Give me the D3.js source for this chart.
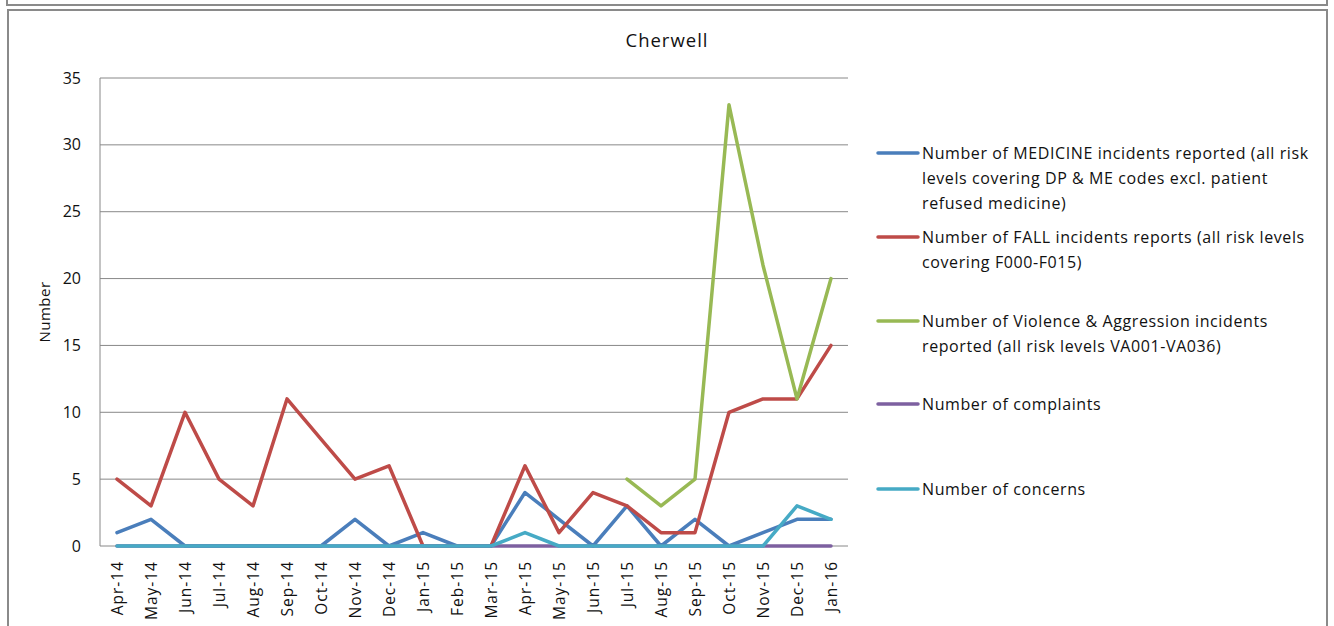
<!DOCTYPE html>
<html><head><meta charset="utf-8">
<script src="https://cdn.jsdelivr.net/npm/d3@7"></script>
<style>body{margin:0;background:#fff}svg{display:block}text{font-family:"Open Sans","Noto Sans",sans-serif;fill:#111}</style>
</head><body>
<svg id="c" width="1334" height="626"></svg>
<script>
const months = ["Apr-14","May-14","Jun-14","Jul-14","Aug-14","Sep-14","Oct-14","Nov-14","Dec-14","Jan-15","Feb-15","Mar-15","Apr-15","May-15","Jun-15","Jul-15","Aug-15","Sep-15","Oct-15","Nov-15","Dec-15","Jan-16"];
const medicine = [1,2,0,0,0,0,0,2,0,1,0,0,4,2,0,3,0,2,0,1,2,2];
const falls = [5,3,10,5,3,11,8,5,6,0,0,0,6,1,4,3,1,1,10,11,11,15];
const violence = [null,null,null,null,null,null,null,null,null,null,null,null,null,null,null,5,3,5,33,21,11,20];
const complaints = [0,0,0,0,0,0,0,0,0,0,0,0,0,0,0,0,0,0,0,0,0,0];
const concerns = [0,0,0,0,0,0,0,0,0,0,0,0,1,0,0,0,0,0,0,0,3,2];
const yTicks = [0,5,10,15,20,25,30,35];
const seriesNames = [
  ["Number of MEDICINE incidents reported (all risk","levels covering DP & ME codes excl. patient","refused medicine)"],
  ["Number of FALL incidents reports (all risk levels","covering F000-F015)"],
  ["Number of Violence & Aggression incidents","reported (all risk levels VA001-VA036)"],
  ["Number of complaints"],
  ["Number of concerns"]
];
const colors = ["#4A7EBB","#BE4B48","#98B954","#7D60A0","#46AAC5"];
const seriesData = [medicine, falls, violence, complaints, concerns];

const svg = d3.select("#c");
// frames
svg.append("rect").attr("x",7).attr("y",-10).attr("width",1320).attr("height",15).attr("fill","none").attr("stroke","#8a8a8a").attr("stroke-width",2);
svg.append("rect").attr("x",8).attr("y",10).attr("width",1319).attr("height",630).attr("fill","none").attr("stroke","#8a8a8a").attr("stroke-width",2);

const x = d3.scalePoint().domain(months).range([100,848]).padding(0.5);
const y = d3.scaleLinear().domain([0,35]).range([546,78]);

// title
svg.append("text").attr("x",667).attr("y",47).attr("text-anchor","middle").style("font-size","18.5px").style("letter-spacing","1px").text("Cherwell");

// gridlines
svg.append("g").selectAll("line").data(yTicks).join("line")
  .attr("x1",100).attr("x2",848).attr("y1",d=>y(d)).attr("y2",d=>y(d))
  .attr("stroke","#888").attr("stroke-width",1);
svg.append("line").attr("x1",100).attr("x2",100).attr("y1",y(35)).attr("y2",y(0)).attr("stroke","#888");

// y axis labels
const yAxis = d3.axisLeft(y).tickValues(yTicks).tickSize(0).tickPadding(19);
const ya = svg.append("g").attr("transform","translate(100,0)").call(yAxis);
ya.select(".domain").remove();
ya.selectAll("text").style("font-size","16px").style("font-family","'Open Sans', sans-serif").attr("fill","#111");

svg.append("text").attr("transform","translate(50,312) rotate(-90)").attr("text-anchor","middle").style("font-size","15px").style("letter-spacing","0.5px").text("Number");

// x axis labels
const xAxis = d3.axisBottom(x).tickSize(0).tickPadding(0);
const xa = svg.append("g").attr("transform","translate(0,546)").call(xAxis);
xa.select(".domain").remove();
xa.selectAll("text").attr("transform","rotate(-90)").attr("x",-15).attr("y",0).attr("dy","0.35em")
  .attr("text-anchor","end").style("font-size","15.5px").style("letter-spacing","1px").style("font-family","'Open Sans', sans-serif").attr("fill","#111");

// lines
const line = d3.line().defined(d=>d[1]!=null).x(d=>x(d[0])).y(d=>y(d[1]));
seriesData.forEach((s,i)=>{
  svg.append("path").datum(months.map((m,j)=>[m,s[j]]))
    .attr("d",line).attr("fill","none").attr("stroke",colors[i]).attr("stroke-width",3.5)
    .attr("stroke-linejoin","round").attr("stroke-linecap","round");
});

// legend
const legY = [153,237,321,404,489];
seriesNames.forEach((lines,i)=>{
  const g = svg.append("g");
  g.append("line").attr("x1",878).attr("x2",918).attr("y1",legY[i]).attr("y2",legY[i])
    .attr("stroke",colors[i]).attr("stroke-width",3.5).attr("stroke-linecap","round");
  lines.forEach((t,k)=>{
    g.append("text").attr("x",922).attr("y",legY[i]+k*25.3).attr("dy","0.35em").style("font-size","16px").style("letter-spacing","0.6px").text(t);
  });
});
</script>
</body></html>
